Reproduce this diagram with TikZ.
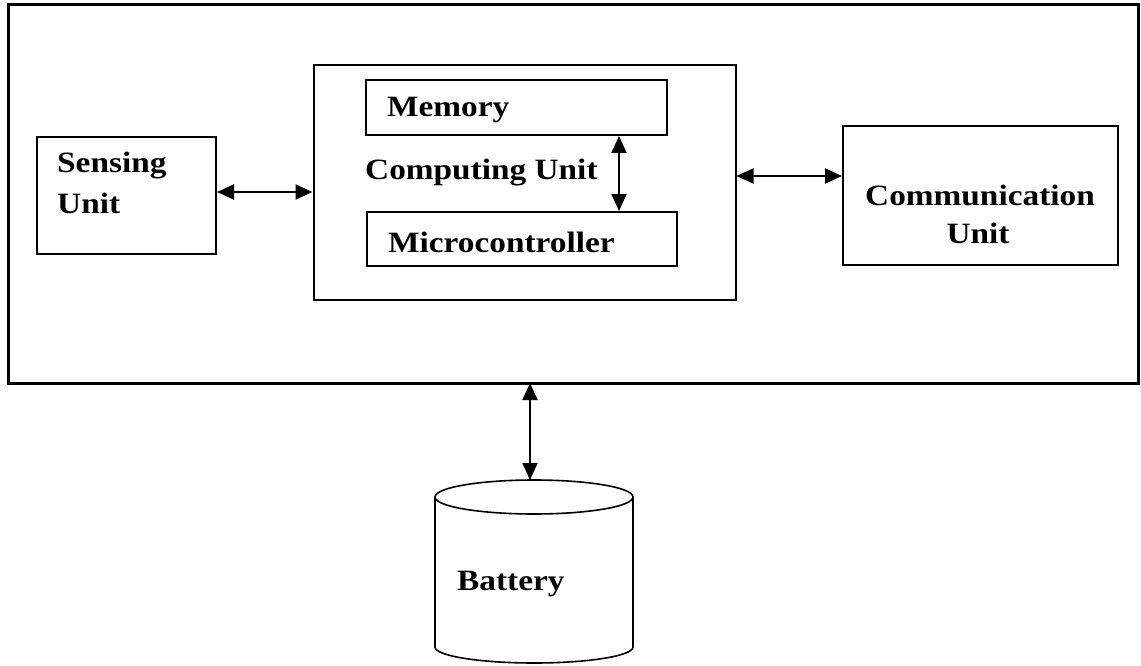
\documentclass[tikz,border=0pt]{standalone}
\usepackage{fontspec}
\setmainfont{Liberation Serif}[FakeStretch=1.13]
\usetikzlibrary{arrows.meta}
\begin{document}
\begin{tikzpicture}[x=1pt,y=-1pt,
  box/.style={draw, line width=2pt, inner sep=0pt},
  lbl/.style={inner sep=0pt, font=\fontsize{29.5}{38}\selectfont\bfseries},
  link/.style={line width=2pt, {Triangle[length=17pt,width=15pt]}-{Triangle[length=17pt,width=15pt]}}]
\useasboundingbox (0,0) rectangle (1141,666);
% enclosing sensor node
\draw[line width=3pt] (8,5) rectangle (1138,383);
\coordinate (outerbottom) at (530,383);
% functional blocks
\node[box, minimum width=179pt, minimum height=117pt] (sense) at (126.5,195.5) {};
\node[box, minimum width=422pt, minimum height=235pt] (comp) at (524.5,182.5) {};
\node[box, minimum width=301pt, minimum height=55pt] (mem) at (516.5,107.5) {};
\node[box, minimum width=310pt, minimum height=54pt] (mcu) at (522,239) {};
\node[box, minimum width=275pt, minimum height=139pt] (comm) at (980.5,195.5) {};
% labels
\node[lbl, anchor=base west] (tsense1) at (57,173) {Sensing};
\node[lbl, anchor=base west] (tsense2) at (57,213) {Unit};
\node[lbl, anchor=base west] (tmem) at (387,117) {Memory};
\node[lbl, anchor=base west] (tcomp) at (365,179) {Computing Unit};
\node[lbl, anchor=base west] (tmcu) at (388,252) {Microcontroller};
\node[lbl, anchor=base] (tcomm1) at (980,205) {Communication};
\node[lbl, anchor=base] (tcomm2) at (978,243) {Unit};
% battery cylinder
\draw[line width=1.6pt] (435,497) -- (435,647) arc[start angle=180, end angle=0, x radius=99, y radius=16] -- (633,497);
\draw[line width=1.6pt] (534,497) ellipse[x radius=99, y radius=17];
\coordinate (battop) at (530,480);
\node[lbl, anchor=base west] (tbat) at (457,590) {Battery};
% connectors
\draw[link] (sense.east |- 0,192) -- (comp.west |- 0,192);
\draw[link] (comp.east |- 0,176) -- (comm.west |- 0,176);
\draw[link] (mem.south -| 619,0) -- (mcu.north -| 619,0);
\draw[link] (outerbottom) -- (battop);
\end{tikzpicture}
\end{document}
